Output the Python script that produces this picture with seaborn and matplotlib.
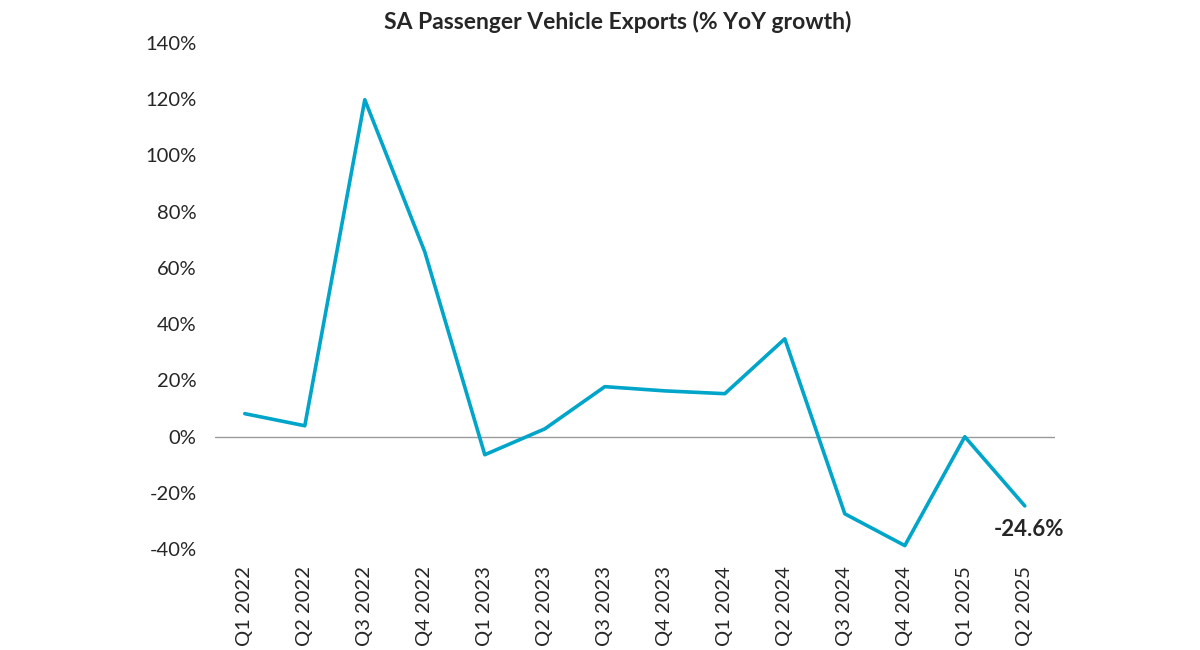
import matplotlib
matplotlib.use("Agg")
import matplotlib.pyplot as plt
import seaborn as sns
from matplotlib.ticker import FuncFormatter

sns.set_style("white")
plt.rcParams['font.family'] = ['Lato', 'DejaVu Sans']

# data
quarters = ["Q1 2022", "Q2 2022", "Q3 2022", "Q4 2022",
            "Q1 2023", "Q2 2023", "Q3 2023", "Q4 2023",
            "Q1 2024", "Q2 2024", "Q3 2024", "Q4 2024",
            "Q1 2025", "Q2 2025"]
growth = [8.2, 3.9, 119.8, 65.7,
          -6.4, 2.8, 17.8, 16.3,
          15.3, 34.8, -27.4, -38.7,
          0.0, -24.6]
y_ticks = [-40, -20, 0, 20, 40, 60, 80, 100, 120, 140]

fig = plt.figure(figsize=(12, 6.5), dpi=100)
ax = fig.add_axes([0.179, 0.155, 0.700, 0.779])

ax.axhline(0, color="#9a9a9a", linewidth=1.0, zorder=1)
sns.lineplot(x=quarters, y=growth, ax=ax, color="#00A5C9", linewidth=2.6, zorder=3)

ax.set_xlim(-0.5, len(quarters) - 0.5)
ax.set_ylim(-40, 140)
ax.set_yticks(y_ticks)
ax.yaxis.set_major_formatter(FuncFormatter(lambda v, p: f"{v:.0f}%"))
ax.tick_params(axis="y", labelsize=14.5, length=0, pad=13)
ax.tick_params(axis="x", labelsize=14.5, length=0, pad=12, labelrotation=90)
for s in ax.spines.values():
    s.set_visible(False)

ax.annotate(f"{growth[-1]}%", xy=(len(quarters) - 1, growth[-1]),
            xytext=(3, -17), textcoords="offset points",
            ha="center", va="center", fontsize=16, fontweight="bold")

fig.text(0.515, 0.966, "SA Passenger Vehicle Exports (% YoY growth)",
         ha="center", va="center", fontsize=16.5, fontweight="bold")

fig.savefig("out.png", dpi=100)
